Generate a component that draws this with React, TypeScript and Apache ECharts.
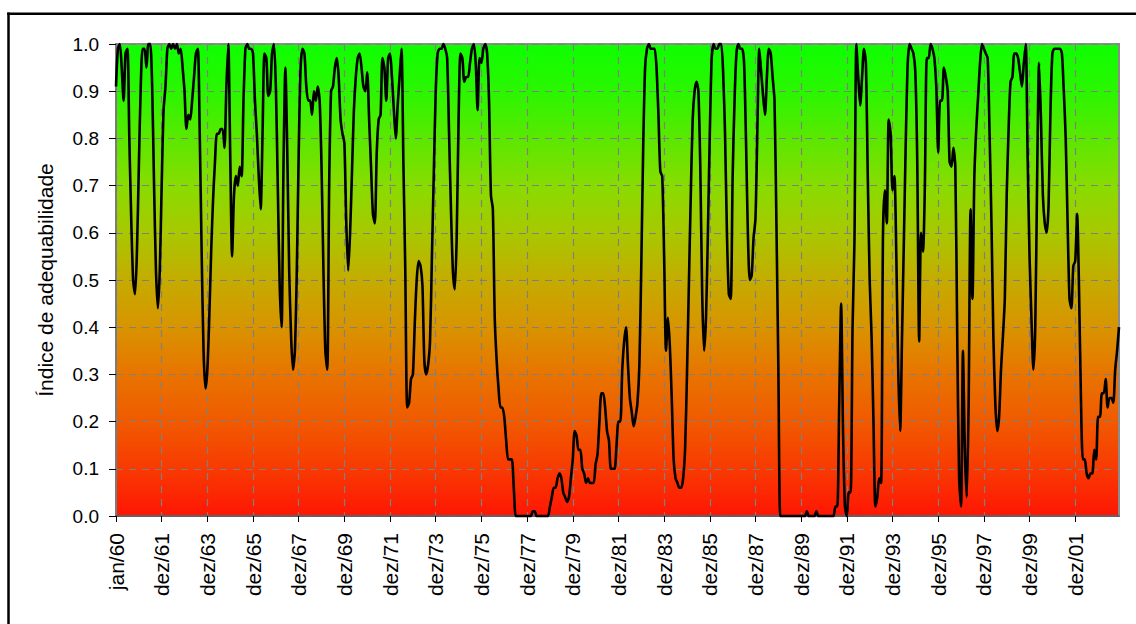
import React, { useEffect, useRef } from "react";
import * as echarts from "echarts";

// Monthly suitability index (index 0 = jan/60)
const VALUES_1960S = [
  0.91, 0.99, 1.0, 0.95, 0.88, 0.98, 0.99, 0.8, 0.63, 0.5,
  0.47, 0.56, 0.74, 0.91, 0.99, 0.99, 0.95, 1.0, 1.0, 0.91,
  0.7, 0.52, 0.44, 0.52, 0.7, 0.86, 0.91, 0.99, 1.0, 0.99,
  1.0, 0.99, 1.0, 0.98, 0.99, 0.95, 0.9, 0.82, 0.85, 0.84,
  0.88, 0.93, 0.98, 0.99, 0.81, 0.56, 0.35, 0.27, 0.31, 0.42,
  0.56, 0.67, 0.75, 0.81, 0.81, 0.82, 0.82, 0.78, 0.91, 1.0,
  0.77, 0.55, 0.68, 0.72, 0.7, 0.74, 0.72, 0.88, 0.99, 1.0,
  0.99, 0.99, 0.98, 0.88, 0.81, 0.72, 0.65, 0.81, 0.98, 0.97,
  0.89, 0.9, 0.98, 1.0, 0.91, 0.7, 0.49, 0.4, 0.74, 0.95,
  0.77, 0.52, 0.38, 0.31, 0.35, 0.52, 0.77, 0.95, 0.99, 0.98,
  0.91, 0.88, 0.88, 0.85, 0.9, 0.88, 0.91, 0.88, 0.74, 0.52,
  0.35, 0.31, 0.7, 0.9, 0.91, 0.95, 0.97, 0.93, 0.84, 0.81,
];
const VALUES_1970S = [
  0.79, 0.62, 0.52, 0.6, 0.73, 0.86, 0.93, 0.97, 0.98, 0.95,
  0.91, 0.9, 0.94, 0.84, 0.74, 0.64, 0.62, 0.77, 0.84, 0.85,
  0.97, 0.95, 0.88, 0.97, 0.98, 0.93, 0.86, 0.8, 0.87, 0.93,
  0.99, 0.75, 0.52, 0.23, 0.24, 0.29, 0.3, 0.41, 0.5, 0.54,
  0.53, 0.49, 0.33, 0.3, 0.32, 0.37, 0.55, 0.73, 0.9, 0.98,
  0.99, 0.99, 1.0, 0.99, 0.97, 0.81, 0.65, 0.52, 0.48, 0.59,
  0.84, 0.98, 0.97, 0.92, 0.93, 0.93, 0.96, 0.99, 1.0, 0.96,
  0.86, 0.97, 0.96, 0.99, 1.0, 0.98, 0.88, 0.68, 0.65, 0.42,
  0.33, 0.27, 0.23, 0.23, 0.21, 0.16, 0.12, 0.12, 0.12, 0.06,
  0, 0, 0, 0, 0, 0, 0, 0, 0, 0.01,
  0.01, 0, 0, 0, 0, 0, 0, 0, 0.02, 0.04,
  0.06, 0.06, 0.08, 0.09, 0.08, 0.05, 0.04, 0.03, 0.04, 0.08,
];
const VALUES_1980S = [
  0.12, 0.18, 0.17, 0.14, 0.14, 0.1, 0.09, 0.07, 0.08, 0.07,
  0.07, 0.07, 0.11, 0.13, 0.2, 0.26, 0.26, 0.23, 0.18, 0.16,
  0.1, 0.1, 0.1, 0.15, 0.2, 0.2, 0.31, 0.37, 0.4, 0.32,
  0.25, 0.22, 0.19, 0.21, 0.24, 0.32, 0.53, 0.78, 0.95, 0.99,
  1.0, 0.99, 0.99, 0.99, 0.95, 0.85, 0.73, 0.72, 0.55, 0.35,
  0.42, 0.36, 0.25, 0.12, 0.08, 0.07, 0.06, 0.06, 0.08, 0.14,
  0.3, 0.49, 0.68, 0.84, 0.9, 0.92, 0.9, 0.74, 0.47, 0.35,
  0.42, 0.6, 0.81, 0.97, 1.0, 0.99, 0.99, 1.0, 1.0, 0.94,
  0.81, 0.6, 0.47, 0.46, 0.72, 0.88, 0.98, 1.0, 0.99, 0.99,
  0.96, 0.8, 0.6, 0.5, 0.51, 0.59, 0.63, 0.82, 0.99, 0.94,
  0.89, 0.85, 0.93, 0.99, 0.98, 0.93, 0.88, 0.62, 0.32, 0,
  0, 0, 0, 0, 0, 0, 0, 0, 0, 0,
];
const VALUES_1990S = [
  0, 0, 0, 0.01, 0, 0, 0, 0, 0.01, 0,
  0, 0, 0, 0, 0, 0, 0, 0, 0.02, 0.02,
  0.24, 0.45, 0.18, 0.02, 0, 0.05, 0.05, 0.4, 0.58, 1.0,
  0.93, 0.87, 0.93, 0.99, 0.96, 0.72, 0.5, 0.38, 0.2, 0.02,
  0.04, 0.08, 0.07, 0.6, 0.69, 0.62, 0.84, 0.81, 0.69, 0.72,
  0.55, 0.31, 0.18, 0.38, 0.59, 0.8, 0.96, 1.0, 0.99, 0.98,
  0.94, 0.75, 0.37, 0.6, 0.56, 0.7, 0.97, 0.97, 1.0, 0.99,
  0.97, 0.91, 0.77, 0.88, 0.88, 0.95, 0.93, 0.9, 0.75, 0.74,
  0.78, 0.74, 0.38, 0.08, 0.02, 0.35, 0.14, 0.04, 0.24, 0.65,
  0.46, 0.72, 0.82, 0.89, 0.96, 1.0, 0.99, 0.98, 0.97, 0.81,
  0.62, 0.38, 0.24, 0.18, 0.21, 0.31, 0.38, 0.46, 0.68, 0.82,
  0.92, 0.93, 0.98, 0.98, 0.97, 0.94, 0.91, 0.96, 1.0, 0.76,
];
const VALUES_2000S = [
  0.55, 0.42, 0.31, 0.4, 0.72, 0.96, 0.84, 0.68, 0.62, 0.6,
  0.66, 0.86, 0.98, 0.99, 0.99, 0.99, 0.99, 0.98, 0.9, 0.8,
  0.62, 0.46, 0.44, 0.53, 0.54, 0.64, 0.48, 0.25, 0.12, 0.12,
  0.09, 0.08, 0.09, 0.09, 0.14, 0.12, 0.21, 0.21, 0.26, 0.26,
  0.29, 0.23, 0.25, 0.25, 0.24, 0.31, 0.35, 0.4,
];

const TICK_LABELS = [
  "jan/60", "dez/61", "dez/63", "dez/65", "dez/67", "dez/69", "dez/71",
  "dez/73", "dez/75", "dez/77", "dez/79", "dez/81", "dez/83", "dez/85",
  "dez/87", "dez/89", "dez/91", "dez/93", "dez/95", "dez/97", "dez/99",
  "dez/01",
];
const TICK_STEP = 24;
const MONTHS = ["jan", "fev", "mar", "abr", "mai", "jun", "jul", "ago", "set", "out", "nov", "dez"];
const START_YEAR = 1960;
const Y_TITLE = "Índice de adequabilidade";

const VALUES = [
  ...VALUES_1960S,
  ...VALUES_1970S,
  ...VALUES_1980S,
  ...VALUES_1990S,
  ...VALUES_2000S,
];
const CATEGORIES = VALUES.map((_, i) => {
  const y = START_YEAR + Math.floor(i / 12);
  return MONTHS[i % 12] + "/" + String(y % 100).padStart(2, "0");
});

const FONT = "Arial, 'Liberation Sans', Helvetica, sans-serif";
const onTick = (idx: number) => idx % TICK_STEP === 0;

export default function App() {
  const ref = useRef<HTMLDivElement>(null);
  useEffect(() => {
    if (!ref.current) return;
    const chart = echarts.init(ref.current, undefined, { renderer: "svg" });
    chart.setOption({
      animation: false,
      backgroundColor: "#ffffff",
      textStyle: { fontFamily: FONT },
      graphic: [
        {
          type: "line",
          silent: true,
          z: 100,
          shape: { x1: 7.2, y1: 13.7, x2: 1136, y2: 13.7 },
          style: { stroke: "#000000", lineWidth: 2.5 },
        },
        {
          type: "line",
          silent: true,
          z: 100,
          shape: { x1: 8.5, y1: 12.5, x2: 8.5, y2: 624 },
          style: { stroke: "#000000", lineWidth: 2.5 },
        },
      ],
      grid: {
        left: 116,
        right: 17,
        top: 44,
        bottom: 108,
        show: true,
        borderColor: "#8c8c8c",
        borderWidth: 2,
        backgroundColor: new echarts.graphic.LinearGradient(0, 0, 0, 1, [
          { offset: 0, color: "#0eff00" },
          { offset: 0.1, color: "#2af600" },
          { offset: 0.2, color: "#5ae800" },
          { offset: 0.3, color: "#88dc00" },
          { offset: 0.4, color: "#a8c800" },
          { offset: 0.5, color: "#c4ac00" },
          { offset: 0.6, color: "#d89400" },
          { offset: 0.7, color: "#e87400" },
          { offset: 0.8, color: "#f05a00" },
          { offset: 0.9, color: "#f83a02" },
          { offset: 1, color: "#ff1604" },
        ]),
      },
      xAxis: {
        type: "category",
        data: CATEGORIES,
        boundaryGap: false,
        axisLine: { show: true, lineStyle: { color: "#555555", width: 1.5 } },
        axisTick: {
          show: true,
          interval: onTick,
          length: 6,
          lineStyle: { color: "#000000", width: 1 },
        },
        axisLabel: {
          interval: onTick,
          rotate: 90,
          margin: 17,
          fontSize: 21,
          color: "#000000",
          fontFamily: FONT,
          formatter: (_v: string, idx: number) =>
            idx % TICK_STEP === 0 ? TICK_LABELS[idx / TICK_STEP] ?? "" : "",
        },
        splitLine: {
          show: true,
          interval: onTick,
          lineStyle: { color: "#808080", width: 1.2, type: [7, 6] },
        },
      },
      yAxis: {
        type: "value",
        min: 0,
        max: 1,
        interval: 0.1,
        name: Y_TITLE,
        nameLocation: "middle",
        nameGap: 60,
        nameTextStyle: { fontSize: 21, color: "#000000", fontFamily: FONT },
        axisLine: { show: true, lineStyle: { color: "#777777", width: 1.5 } },
        axisTick: { show: true, length: 7, lineStyle: { color: "#000000", width: 1 } },
        axisLabel: {
          margin: 17,
          fontSize: 19,
          color: "#000000",
          fontFamily: FONT,
          formatter: (v: number) => v.toFixed(1),
        },
        splitLine: {
          show: true,
          lineStyle: { color: "#808080", width: 1.2, type: [7, 6] },
        },
      },
      series: [
        {
          type: "line",
          data: VALUES,
          showSymbol: false,
          symbol: "none",
          smooth: 0.25,
          clip: false,
          lineStyle: { color: "#000000", width: 2.6 },
          z: 5,
        },
      ],
    });
    return () => chart.dispose();
  }, []);
  return (
    <div
      ref={ref}
      style={{ position: "fixed", left: 0, top: 0, width: 1136, height: 624 }}
    />
  );
}
